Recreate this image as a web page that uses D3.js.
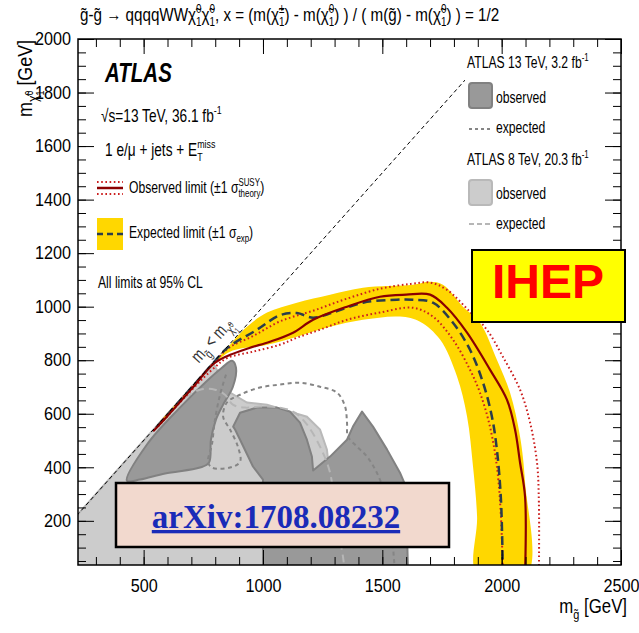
<!DOCTYPE html>
<html>
<head>
<meta charset="utf-8">
<script src="https://cdn.jsdelivr.net/npm/d3@7"></script>
<style>body{margin:0;background:#fff}</style>
</head>
<body>
<div id="chart"></div>
<script>
'use strict';

// ---- axis ticks (GeV) ----
const xMajor = [500, 1000, 1500, 2000, 2500];
const yMajor = [200, 400, 600, 800, 1000, 1200, 1400, 1600, 1800, 2000];
const xMinor = d3.range(300, 2501, 100);
const yMinor = d3.range(50, 2001, 50);

// ---- 36.1 fb-1 limits, [m(gluino), m(LSP)] in GeV ----
const obsLimit = [[540,535],[598,590],[700,692],[791,785],[849,815],[940,845],[1029,869],[1126,903],[1210,951],
  [1352,1000],[1490,1037],[1600,1045],[1700,1045],[1771,996],[1855,903],[1951,765],[2022,653],[2056,541],
  [2077,418],[2098,291],[2098,0]];
const obsUp = [[560,557],[700,697],[800,797],[860,848],[958,890],[1071,945],[1210,985],[1352,1030],[1490,1067],
  [1620,1085],[1700,1090],[1771,1063],[1867,981],[1938,914],[2005,813],[2077,690],[2119,567],[2148,418],
  [2156,269],[2156,0]];
const obsDown = [[560,552],[700,688],[800,775],[849,808],[958,832],[1071,858],[1142,884],[1239,914],[1352,951],
  [1490,978],[1628,996],[1712,963],[1796,877],[1867,765],[1909,679],[1951,552],[1980,403],[1997,216],[2005,0]];
const expLimit = [[560,556],[700,697],[791,789],[849,845],[975,914],[1071,968],[1142,976],[1210,959],[1293,978],
  [1419,1015],[1561,1026],[1628,1026],[1712,1015],[1796,940],[1867,840],[1922,716],[1959,590],[1980,466],
  [1997,280],[2005,0]];
const expBandOuter = [[560,558],[700,698],[790,788],[832,828],[933,925],[1017,978],[1142,1015],[1281,1045],
  [1419,1071],[1628,1082],[1700,1093],[1754,1082],[1838,1000],[1909,940],[1980,802],[2035,679],[2077,515],
  [2098,343],[2106,0]];
const expBandInner = [[560,552],[700,690],[790,780],[862,832],[1017,858],[1142,888],[1281,925],[1419,951],
  [1574,963],[1658,944],[1742,877],[1813,739],[1855,590],[1880,403],[1897,216],[1897,0]];

// ---- earlier ATLAS results ----
const obs8TeV = [[200,0],[200,200],[790,790],[862,679],[933,642],[1017,634],[1113,608],[1184,589],[1239,541],
  [1268,466],[1281,354],[1289,242],[1302,0]];
const obs13TeVa = [[430,350],[514,485],[652,623],[757,716],[828,772],[870,798],[887,772],[874,701],[833,634],
  [803,578],[782,503],[774,418],[736,399],[590,377],[485,354]];
const obs13TeVb = [[875,552],[904,604],[975,623],[1059,623],[1113,608],[1155,567],[1184,503],[1205,440],[1210,388],
  [1281,440],[1352,503],[1377,552],[1415,608],[1461,552],[1520,466],[1574,380],[1595,336],[1603,168],[1608,0],
  [1000,0],[1000,354],[958,403],[904,503],[883,541]];
const exp13TeV = [[845,746],[820,671],[799,578],[786,485],[770,421],[786,399],[862,399],[904,421],[895,477],
  [862,541],[833,589],[849,642],[904,671],[987,698],[1071,709],[1155,716],[1239,701],[1310,679],[1344,627],
  [1352,567],[1356,515],[1394,477],[1436,440],[1490,354],[1532,205],[1553,0]];
const exp8TeV = [[673,660],[736,690],[799,690],[841,671],[874,634],[925,623],[987,627],[1071,623],[1134,604],
  [1184,560],[1239,477],[1281,380],[1302,231],[1335,67],[1344,0]];
const diagonal = [[200,200],[2100,2100]];

const W = 639, H = 633;
const K = 0.76;                       // ROOT text is drawn narrow
const FONT = "'Liberation Sans', Arial, Helvetica, sans-serif";

const svg = d3.select('#chart').append('svg')
  .attr('width', W).attr('height', H).style('font-family', FONT);

const x = d3.scaleLinear([225, 2500], [78, 621]);
const y = d3.scaleLinear([35, 2000], [565, 39]);

const lin = d3.line().x(d => x(d[0])).y(d => y(d[1]));
const smooth = d3.line().x(d => x(d[0])).y(d => y(d[1])).curve(d3.curveCatmullRom.alpha(0.5));
const linClosed = d3.line().x(d => x(d[0])).y(d => y(d[1])).curve(d3.curveLinearClosed);
const smoothClosed = d3.line().x(d => x(d[0])).y(d => y(d[1])).curve(d3.curveCatmullRomClosed.alpha(0.5));

// text with ROOT-like ^{sup} _{sub} and stacked ^{a}_{b}
function rich(t, markup, size) {
  let off = 0, pend = 0;
  const span = (s, rel, lvl, dx) => {
    const e = t.append('tspan').attr('font-size', size * rel).attr('dy', (lvl - off) * size).text(s);
    const d = (dx || 0) + pend;
    if (d) e.attr('dx', d);
    pend = 0; off = lvl;
    return e;
  };
  const re = /\^\{([^}]*)\}_\{([^}]*)\}|\^\{([^}]*)\}|_\{([^}]*)\}|([^^_]+)/g;
  let m;
  while (markup && (m = re.exec(markup))) {
    if (m[1] !== undefined) {
      const a = span(m[1], 0.65, -0.42);
      const wa = a.node().getComputedTextLength();
      const b = span(m[2], 0.65, 0.28, -wa);
      const wb = b.node().getComputedTextLength();
      if (wa > wb) pend = wa - wb;
    } else if (m[3] !== undefined) span(m[3], 0.65, -0.42);
    else if (m[4] !== undefined) span(m[4], 0.65, 0.28);
    else span(m[5], 1, 0);
  }
  return span;
}

function label(parent, px, py, markup, o = {}) {
  const g = parent.append('g')
    .attr('transform', `translate(${px},${py})` + (o.rotate ? ` rotate(${o.rotate})` : '') + ` scale(${o.sx || K},1)`);
  const t = g.append('text')
    .attr('font-size', o.size || 16)
    .attr('text-anchor', o.anchor || 'start')
    .attr('fill', o.fill || '#000')
    .attr('font-weight', o.weight || 'normal')
    .attr('font-style', o.style || 'normal');
  return rich(t, markup, o.size || 16);
}

svg.append('defs').append('clipPath').attr('id', 'plotClip')
  .append('rect').attr('x', 78).attr('y', 39).attr('width', 543).attr('height', 526);

const plot = svg.append('g').attr('clip-path', 'url(#plotClip)');

// earlier exclusions
plot.append('path').attr('d', linClosed(obs8TeV))
  .attr('fill', '#cccccc').attr('stroke', '#b9b9b9').attr('stroke-width', 2);
plot.append('path').attr('d', smoothClosed(obs13TeVa))
  .attr('fill', '#999999').attr('stroke', '#818181').attr('stroke-width', 2);
plot.append('path').attr('d', linClosed(obs13TeVb))
  .attr('fill', '#999999').attr('stroke', '#818181').attr('stroke-width', 2).attr('stroke-linejoin', 'round');
plot.append('path').attr('d', smooth(exp8TeV))
  .attr('fill', 'none').attr('stroke', '#b6b6b6').attr('stroke-width', 2).attr('stroke-dasharray', '8,5');
plot.append('path').attr('d', smooth(exp13TeV))
  .attr('fill', 'none').attr('stroke', '#858585').attr('stroke-width', 2).attr('stroke-dasharray', '4,3.5');

// expected band + limits
plot.append('path').attr('d', smoothClosed(expBandOuter.concat(expBandInner.slice().reverse())))
  .attr('fill', '#ffd700').attr('stroke', 'none');
[obsUp, obsDown].forEach(c => plot.append('path').attr('d', smooth(c))
  .attr('fill', 'none').attr('stroke', '#cc1f1f').attr('stroke-width', 2).attr('stroke-dasharray', '1.6,2.6'));
plot.append('path').attr('d', smooth(expLimit))
  .attr('fill', 'none').attr('stroke', '#2b3d4b').attr('stroke-width', 2.5).attr('stroke-dasharray', '9,5');
plot.append('path').attr('d', smooth(obsLimit))
  .attr('fill', 'none').attr('stroke', '#8b0000').attr('stroke-width', 2.2);
plot.append('path').attr('d', lin(diagonal))
  .attr('fill', 'none').attr('stroke', '#000').attr('stroke-width', 1).attr('stroke-dasharray', '4,3');

// diagonal label
{
  const p0 = [x(835), y(835)], p1 = [x(1835), y(1835)];
  const a = Math.atan2(p1[1] - p0[1], p1[0] - p0[0]);
  const nx = Math.sin(a), ny = -Math.cos(a);
  const sp = label(plot, p0[0] + 10 * nx, p0[1] + 10 * ny, null,
    { size: 18, anchor: 'middle', rotate: a * 180 / Math.PI, fill: '#333' });
  sp('m', 1, 0); sp('g\u0303', 0.7, 0.3); sp(' < m', 1, 0); sp('\u03c7\u0303', 0.7, 0.3);
  const z = sp('0', 0.5, 0.05); sp('1', 0.5, 0.55, -z.node().getComputedTextLength());
}

// white legend area on the right
svg.append('rect').attr('x', 465).attr('y', 40).attr('width', 155).attr('height', 203).attr('fill', '#fff');

// ---- axes (ticks inside on all four sides) ----
function styleAxis(g, sx) {
  g.select('.domain').remove();
  g.selectAll('line').attr('stroke', '#000');
  g.selectAll('text').attr('font-size', 18).attr('font-family', FONT).attr('fill', '#000')
    .attr('transform', `scale(${sx},1)`);
}
const TS = 0.9;
svg.append('g').attr('transform', 'translate(0,565)')
  .call(d3.axisBottom(x).tickValues(xMajor).tickSize(-15).tickSizeOuter(0).tickPadding(14).tickFormat(d3.format('d')))
  .call(g => styleAxis(g, TS));
svg.append('g').attr('transform', 'translate(0,565)')
  .call(d3.axisBottom(x).tickValues(xMinor).tickSize(-8).tickSizeOuter(0).tickFormat(''))
  .call(g => styleAxis(g, 1));
svg.append('g').attr('transform', 'translate(0,39)')
  .call(d3.axisTop(x).tickValues(xMajor).tickSize(-15).tickSizeOuter(0).tickFormat(''))
  .call(g => styleAxis(g, 1));
svg.append('g').attr('transform', 'translate(0,39)')
  .call(d3.axisTop(x).tickValues(xMinor).tickSize(-8).tickSizeOuter(0).tickFormat(''))
  .call(g => styleAxis(g, 1));
svg.append('g').attr('transform', 'translate(78,0)')
  .call(d3.axisLeft(y).tickValues(yMajor).tickSize(-16).tickSizeOuter(0).tickPadding(7 / TS).tickFormat(d3.format('d')))
  .call(g => styleAxis(g, TS));
svg.append('g').attr('transform', 'translate(78,0)')
  .call(d3.axisLeft(y).tickValues(yMinor).tickSize(-8).tickSizeOuter(0).tickFormat(''))
  .call(g => styleAxis(g, 1));
svg.append('g').attr('transform', 'translate(621,0)')
  .call(d3.axisRight(y).tickValues(yMajor).tickSize(-16).tickSizeOuter(0).tickFormat(''))
  .call(g => styleAxis(g, 1));
svg.append('g').attr('transform', 'translate(621,0)')
  .call(d3.axisRight(y).tickValues(yMinor).tickSize(-8).tickSizeOuter(0).tickFormat(''))
  .call(g => styleAxis(g, 1));
svg.append('rect').attr('x', 78).attr('y', 39).attr('width', 543).attr('height', 526)
  .attr('fill', 'none').attr('stroke', '#000').attr('stroke-width', 1.5);

// axis titles
label(svg, 627, 613, 'm_{g\u0303} [GeV]', { size: 21, anchor: 'end', sx: 0.8 });
{
  const sp = label(svg, 32, 40, null, { size: 21, anchor: 'end', rotate: -90, sx: 0.85 });
  sp('m', 1, 0); sp('\u03c7\u0303', 0.7, 0.3);
  const z = sp('0', 0.5, 0.05); sp('1', 0.5, 0.55, -z.node().getComputedTextLength());
  sp(' [GeV]', 1, 0);
}

// title
label(svg, 80, 21,
  'g\u0303-g\u0303 \u2192 qqqqWW\u03c7\u0303^{0}_{1}\u03c7\u0303^{0}_{1}, x = (m(\u03c7\u0303^{\u00b1}_{1}) - m(\u03c7\u0303^{0}_{1}) ) / ( m(g\u0303) - m(\u03c7\u0303^{0}_{1}) ) = 1/2',
  { size: 19, sx: 0.8 });

// ---- left legend ----
label(svg, 105, 82, 'ATLAS', { size: 27, weight: 'bold', style: 'italic' });
label(svg, 101, 122, '\u221as=13 TeV, 36.1 fb^{-1}', { size: 18 });
label(svg, 105, 156, '1 e/\u03bc + jets + E^{miss}_{T}', { size: 18 });
const lg = svg.append('g');
lg.append('line').attr('x1', 97).attr('x2', 123).attr('y1', 188).attr('y2', 188)
  .attr('stroke', '#8b0000').attr('stroke-width', 2.5);
[182, 194].forEach(v => lg.append('line').attr('x1', 97).attr('x2', 123).attr('y1', v).attr('y2', v)
  .attr('stroke', '#cc1f1f').attr('stroke-width', 2).attr('stroke-dasharray', '1.6,2.6'));
label(svg, 129, 193, 'Observed limit (\u00b11 \u03c3^{SUSY}_{theory})', { size: 16 });
lg.append('rect').attr('x', 97).attr('y', 218).attr('width', 26).attr('height', 32).attr('fill', '#ffd700');
lg.append('line').attr('x1', 97).attr('x2', 123).attr('y1', 234).attr('y2', 234)
  .attr('stroke', '#2b3d4b').attr('stroke-width', 2.5).attr('stroke-dasharray', '6,4');
label(svg, 129, 238, 'Expected limit (\u00b11 \u03c3_{exp})', { size: 16 });
label(svg, 98, 288, 'All limits at 95% CL', { size: 16 });

// ---- right legend ----
label(svg, 467, 68, 'ATLAS 13 TeV, 3.2 fb^{-1}', { size: 16 });
lg.append('rect').attr('x', 469).attr('y', 83).attr('width', 23).attr('height', 25).attr('rx', 3)
  .attr('fill', '#999999').attr('stroke', '#818181').attr('stroke-width', 2);
label(svg, 496, 103, 'observed', { size: 16 });
lg.append('line').attr('x1', 469).attr('x2', 492).attr('y1', 129).attr('y2', 129)
  .attr('stroke', '#858585').attr('stroke-width', 2).attr('stroke-dasharray', '3,3');
label(svg, 496, 133, 'expected', { size: 16 });
label(svg, 467, 165, 'ATLAS 8 TeV, 20.3 fb^{-1}', { size: 16 });
lg.append('rect').attr('x', 469).attr('y', 180).attr('width', 23).attr('height', 25).attr('rx', 3)
  .attr('fill', '#cccccc').attr('stroke', '#b9b9b9').attr('stroke-width', 2);
label(svg, 496, 199, 'observed', { size: 16 });
lg.append('line').attr('x1', 469).attr('x2', 492).attr('y1', 224).attr('y2', 224)
  .attr('stroke', '#b6b6b6').attr('stroke-width', 2).attr('stroke-dasharray', '5,3');
label(svg, 496, 229, 'expected', { size: 16 });

// ---- stamps ----
svg.append('rect').attr('x', 472).attr('y', 250).attr('width', 153).attr('height', 72)
  .attr('fill', '#ffff00').attr('stroke', '#000').attr('stroke-width', 2);
svg.append('text').attr('x', 548).attr('y', 298).attr('text-anchor', 'middle')
  .attr('font-size', 48).attr('font-weight', 'bold').attr('fill', '#ff0000').text('IHEP');
svg.append('rect').attr('x', 116).attr('y', 483).attr('width', 333).attr('height', 64)
  .attr('fill', '#f2d9ce').attr('stroke', '#000').attr('stroke-width', 2.5);
svg.append('text').attr('x', 276).attr('y', 528).attr('text-anchor', 'middle')
  .attr('font-family', "'Liberation Serif', 'Times New Roman', serif")
  .attr('font-size', 33).attr('font-weight', 'bold').attr('fill', '#1a2bb8')
  .style('text-decoration', 'underline').text('arXiv:1708.08232');
</script>
</body>
</html>
